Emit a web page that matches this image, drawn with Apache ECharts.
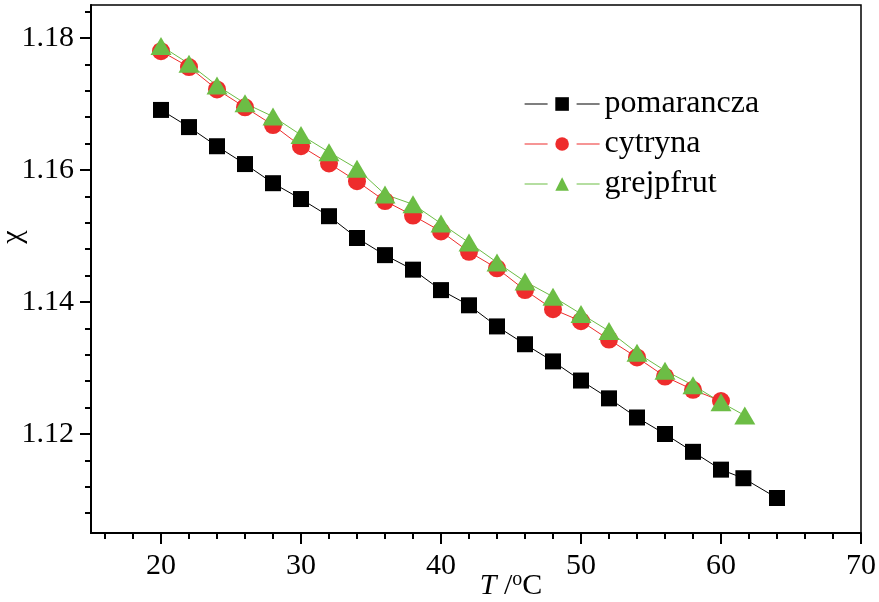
<!DOCTYPE html>
<html>
<head>
<meta charset="utf-8">
<script src="https://cdn.jsdelivr.net/npm/echarts@6/dist/echarts.min.js"></script>
<style>html,body{margin:0;padding:0;background:#fff}#c{width:879px;height:602px}</style>
</head>
<body>
<div id="c"></div>
<script>
// ---- data ----
const seriesNames = ['pomarancza', 'cytryna', 'grejpfrut'];
const xPomarancza = [20,22,24,26,28,30,32,34,36,38,40,42,44,46,48,50,52,54,56,58,60,61.6,64];
const yPomarancza = [1.1691,1.1665,1.1636,1.1609,1.1580,1.1556,1.1530,1.1497,1.1471,1.1449,1.1418,1.1395,1.1363,1.1336,1.1310,1.1281,1.1254,1.1225,1.1200,1.1173,1.1146,1.1133,1.1103];
const xCytryna = [20,22,24,26,28,30,32,34,36,38,40,42,44,46,48,50,52,54,56,58,60];
const yCytryna = [1.1780,1.1756,1.1722,1.1695,1.1668,1.1636,1.1610,1.1583,1.1553,1.1531,1.1507,1.1476,1.1451,1.1418,1.1389,1.1371,1.1343,1.1316,1.1287,1.1267,1.1250];
const xGrejpfrut = [20,22,24,26,28,30,32,34,36,38,40,42,44,46,48,50,52,54,56,58,60,61.7];
const yGrejpfrut = [1.1788,1.1761,1.1728,1.1701,1.1681,1.1653,1.1627,1.1602,1.1563,1.1548,1.1519,1.1490,1.1460,1.1431,1.1408,1.1382,1.1356,1.1323,1.1296,1.1274,1.1248,1.1228];
const xMajorTicks = [20,30,40,50,60,70];
const xMinorTicks = [16,18,22,24,26,28,32,34,36,38,42,44,46,48,52,54,56,58,62,64,66,68];
const yMajorTicks = [1.12,1.14,1.16,1.18];
const yMinorTicks = [1.108,1.112,1.116,1.124,1.128,1.132,1.136,1.144,1.148,1.152,1.156,1.164,1.168,1.172,1.176,1.184];
const xRange = [15, 70];
const yRange = [1.105, 1.185];

const zip = (a, b) => a.map((v, i) => [v, b[i]]);
const FONT = 'Liberation Serif';
const chart = echarts.init(document.getElementById('c'), null, {renderer: 'canvas'});

const baseX = {
  type: 'value', min: xRange[0], max: xRange[1], position: 'bottom',
  splitLine: {show: false}
};
const baseY = {
  type: 'value', min: yRange[0], max: yRange[1], position: 'left',
  splitLine: {show: false}
};

chart.setOption({
  animation: false,
  backgroundColor: '#fff',
  grid: {left: 91, right: 18, top: 5, bottom: 69, show: true, borderColor: '#000', borderWidth: 1.5,
         backgroundColor: 'transparent', containLabel: false, outerBoundsMode: 'none'},
  legend: {
    data: seriesNames, orient: 'vertical', left: 519, top: 83,
    itemWidth: 75, itemHeight: 17, itemGap: 8,
    lineStyle: {type: [23, 29], width: 1.2},
    textStyle: {fontFamily: FONT, fontSize: 32, color: '#000', lineHeight: 31}
  },
  xAxis: [
    Object.assign({}, baseX, {
      name: '{i|T} /{s|o}C', nameLocation: 'middle', nameGap: 37, nameMoveOverlap: false,
      nameTextStyle: {fontFamily: FONT, fontSize: 30, color: '#000', padding: [0,0,0,70],
        rich: {i: {fontFamily: FONT, fontSize: 30, fontStyle: 'italic', color: '#000'},
               s: {fontFamily: FONT, fontSize: 20, color: '#000', verticalAlign: 'top', padding: [0,0,12,0]}}},
      axisLine: {show: true, onZero: false, lineStyle: {color: '#000', width: 2}},
      axisTick: {show: true, inside: false, length: 11, customValues: xMajorTicks, lineStyle: {color: '#000', width: 2}},
      axisLabel: {customValues: xMajorTicks, margin: 18, fontFamily: FONT, fontSize: 30, color: '#000'}
    }),
    Object.assign({}, baseX, {
      axisLine: {show: false},
      axisTick: {show: true, inside: false, length: 6, customValues: xMinorTicks, lineStyle: {color: '#000', width: 2}},
      axisLabel: {show: false}
    })
  ],
  yAxis: [
    Object.assign({}, baseY, {
      name: 'χ', nameLocation: 'middle', nameGap: 63, nameRotate: 90, nameMoveOverlap: false,
      nameTextStyle: {fontFamily: FONT, fontSize: 30, color: '#000', padding: [0,0,0,64]},
      axisLine: {show: true, onZero: false, lineStyle: {color: '#000', width: 2}},
      axisTick: {show: true, inside: false, length: 11, customValues: yMajorTicks, lineStyle: {color: '#000', width: 2}},
      axisLabel: {customValues: yMajorTicks, margin: 17, fontFamily: FONT, fontSize: 30, color: '#000', formatter: v => v.toFixed(2)}
    }),
    Object.assign({}, baseY, {
      axisLine: {show: false},
      axisTick: {show: true, inside: false, length: 6, customValues: yMinorTicks, lineStyle: {color: '#000', width: 2}},
      axisLabel: {show: false}
    })
  ],
  series: [
    {name: seriesNames[0], type: 'line', xAxisIndex: 0, yAxisIndex: 0, data: zip(xPomarancza, yPomarancza),
     symbol: 'rect', symbolSize: 16, showAllSymbol: true,
     itemStyle: {color: '#000'}, lineStyle: {color: '#000', width: 1}},
    {name: seriesNames[1], type: 'line', xAxisIndex: 0, yAxisIndex: 0, data: zip(xCytryna, yCytryna),
     symbol: 'circle', symbolSize: 18, showAllSymbol: true,
     itemStyle: {color: '#ee2c2c'}, lineStyle: {color: '#ee2c2c', width: 1}},
    {name: seriesNames[2], type: 'line', xAxisIndex: 0, yAxisIndex: 0, data: zip(xGrejpfrut, yGrejpfrut),
     symbol: 'triangle', symbolSize: [21, 18], showAllSymbol: true,
     itemStyle: {color: '#6cbd45'}, lineStyle: {color: '#6cbd45', width: 1}}
  ]
});
</script>
</body>
</html>
